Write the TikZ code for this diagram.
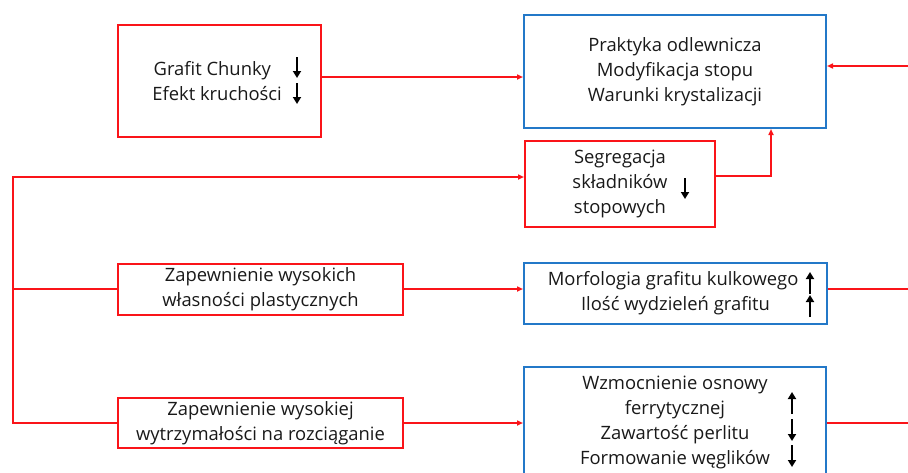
\documentclass[tikz,border=0pt]{standalone}
\usepackage{fontspec}
\setmainfont{Open Sans}
\usetikzlibrary{arrows.meta,calc}
\definecolor{bred}{RGB}{250,20,25}
\definecolor{bblue}{RGB}{35,120,200}
\begin{document}
\begin{tikzpicture}[x=1pt,y=-1pt,
  every node/.style={font=\fontsize{18.4}{25}\selectfont,align=center,inner sep=0pt,text=black!90},
  redbox/.style={draw=bred,line width=2pt},
  bluebox/.style={draw=bblue,line width=2pt},
  line/.style={draw=bred,line width=1.6pt},
  conn/.style={line,-{Triangle[length=6pt,width=5pt]}},
  updown/.style={line width=2.8pt,-{Triangle[length=7pt,width=8pt]}}]
\useasboundingbox (0,0) rectangle (908,472);
% boxes
\node[redbox,minimum width=203pt,minimum height=112pt] (g) at (219.5,81) {Grafit Chunky\ \ \ \ \\Efekt kruchości\ \ };
\node[bluebox,minimum width=302pt,minimum height=113pt] (b1) at (675,71.5) {Praktyka odlewnicza\\Modyfikacja stopu\\Warunki krystalizacji};
\node[redbox,minimum width=190pt,minimum height=86pt] (s) at (620,184) {Segregacja\\składników\\stopowych};
\node[redbox,minimum width=285pt,minimum height=51pt] (z1) at (260.5,289.5) {Zapewnienie wysokich\\własności plastycznych};
\node[redbox,minimum width=285pt,minimum height=50pt] (z2) at (260.5,423) {Zapewnienie wysokiej\\wytrzymałości na rozciąganie};
\node[bluebox,minimum width=303pt,minimum height=61pt] (m) at (675.5,293.5) {Morfologia grafitu kulkowego\ \ \\Ilość wydzieleń grafitu};
\node[bluebox,minimum width=302pt,minimum height=111pt] (b2) at (675,422.5) {Wzmocnienie osnowy\\ferrytycznej\\Zawartość perlitu\\Formowanie węglików};
% free ends
\coordinate (L1) at (13,177);
\coordinate (r1) at (908,66);
\coordinate (r2) at (908,289);
\coordinate (r3) at (908,423);
% connectors
\draw[conn] ([yshift=4pt]g.east) -- ([yshift=4pt]g.east -| b1.west);
\draw[conn] (r1) -- (r1 -| b1.east);
\draw[conn] ([yshift=8pt]s.east) -| ([xshift=96pt]b1.south);
\draw[conn] (z2.west) -| (L1) -- (L1 -| s.west);
\draw[line] (z1.west |- r2) -- (r2 -| L1);
\draw[conn] (z1.east |- r2) -- (r2 -| m.west);
\draw[conn] (z2.east) -- (z2.east -| b2.west);
\draw[line] (r2 -| m.east) -- (r2);
\draw[line] (r3 -| b2.east) -- (r3);
% black trend arrows
\draw[updown] (297,57) -- (297,78);
\draw[updown] (297,83) -- (297,104);
\draw[updown] (685,178) -- (685,199);
\draw[updown] (810,294) -- (810,272);
\draw[updown] (810,317) -- (810,295);
\draw[updown] (792,414) -- (792,392);
\draw[updown] (792,419) -- (792,441);
\draw[updown] (792,445) -- (792,467);
\end{tikzpicture}
\end{document}
